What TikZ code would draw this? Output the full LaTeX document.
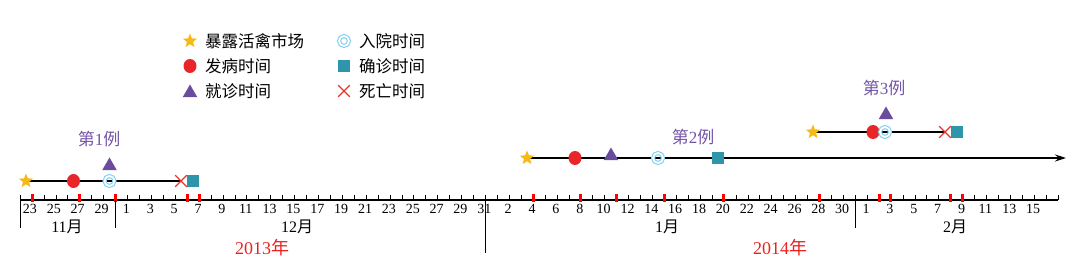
\documentclass[tikz,border=0pt]{standalone}
\usepackage{fontspec}
\setmainfont{Liberation Serif}
\newfontfamily\cjk{Noto Sans CJK SC}
\usetikzlibrary{shapes.geometric,shapes.misc,arrows.meta}
\definecolor{starc}{HTML}{F7B916}
\definecolor{onsetc}{HTML}{E8262A}
\definecolor{visitc}{HTML}{6A4C9C}
\definecolor{ringc}{HTML}{7FD0F0}
\definecolor{sqc}{HTML}{2E95AB}
\definecolor{deathc}{HTML}{E8352A}
\definecolor{casec}{HTML}{7455A6}
\definecolor{yearc}{HTML}{E8231F}
\tikzset{
  mstar/.style={star,star points=5,star point ratio=2.3,fill=starc,draw=none,minimum size=15pt,inner sep=0pt},
  monset/.style={ellipse,fill=onsetc,draw=none,minimum width=13pt,minimum height=14pt,inner sep=0pt},
  mvisit/.style={regular polygon,regular polygon sides=3,fill=visitc,draw=none,minimum size=17pt,inner sep=0pt},
  mring/.style={circle,draw=ringc,line width=1.1pt,double=white,double distance=1.8pt,minimum size=10pt,inner sep=0pt},
  msq/.style={rectangle,fill=sqc,draw=none,minimum size=12.5pt,inner sep=0pt},
  mdeath/.style={cross out,draw=deathc,line width=1.1pt,minimum size=10.5pt,inner sep=0pt},
  legtext/.style={anchor=west,font=\fontsize{16.5}{16.5}\cjk,inner sep=0pt},
  caselab/.style={font=\fontsize{17}{17}\selectfont,text=casec,inner sep=0pt},
  ticklab/.style={font=\fontsize{14}{14}\selectfont,inner sep=0pt},
  monthlab/.style={font=\fontsize{16}{16}\selectfont,inner sep=0pt},
  yearlab/.style={font=\fontsize{18}{18}\selectfont,text=yearc,inner sep=0pt},
  caseline/.style={line width=1.2pt,black},
}
\begin{document}
\begin{tikzpicture}[x=1pt,y=1pt]
\useasboundingbox (0,0) rectangle (1077,270);
% legend
\node[mstar] (l1) at (190,229) {};
\node[legtext] (lt1) at (205,229) {暴露活禽市场};
\node[monset] (l2) at (190,204) {};
\node[legtext] (lt2) at (205,204) {发病时间};
\node[mvisit] (l3) at (190,177) {};
\node[legtext] (lt3) at (205,179) {就诊时间};
\node[mring] (l4) at (344,229) {};
\node[legtext] (lt4) at (359,229) {入院时间};
\node[msq] (l5) at (344,204) {};
\node[legtext] (lt5) at (359,204) {确诊时间};
\node[mdeath] (l6) at (344,179) {};
\node[legtext] (lt6) at (359,179) {死亡时间};
% axis
\coordinate (axL) at (20,70);
\coordinate (axR) at (1058,70);
\draw[line width=1.2pt] (axL) -- (axR);
\foreach \d in {-1,...,86} \draw[line width=0.6pt] ({32+11.93*\d},70) -- ++(0,5);
\foreach \d in {0,4,7,13,14,42,46,49,53,58,66,71,72,77,78}
  \fill[red] ({32+11.93*\d-1.5},68) rectangle ++(3,8);
% month separators
\draw[line width=0.8pt] (20,70) -- (20,42);
\draw[line width=0.8pt] ({32+11.93*7},70) -- ++(0,-28);
\draw[line width=0.8pt] ({32+11.93*38},70) -- ++(0,-53);
\draw[line width=0.8pt] ({32+11.93*69},70) -- ++(0,-28);
% tick labels
\foreach \d in {0,2,4,6} {\pgfmathtruncatemacro\t{\d+23}\node[ticklab] at ({32+11.93*\d-2},61) {\t};}
\foreach \d in {8,10,...,38} {\pgfmathtruncatemacro\t{\d-7}\node[ticklab] at ({32+11.93*\d-1},61) {\t};}
\foreach \d in {40,42,...,68} {\pgfmathtruncatemacro\t{\d-38}\node[ticklab] at ({32+11.93*\d-1},61) {\t};}
\foreach \d in {70,72,...,84} {\pgfmathtruncatemacro\t{\d-69}\node[ticklab] at ({32+11.93*\d-1},61) {\t};}
% month labels
\node[monthlab] (m11) at (67,43.5) {11{\cjk 月}};
\node[monthlab] (m12) at (297,43.5) {12{\cjk 月}};
\node[monthlab] (m1) at (667,43.5) {1{\cjk 月}};
\node[monthlab] (m2) at (955,43.5) {2{\cjk 月}};
\node[yearlab] (y13) at (262,22) {2013{\cjk 年}};
\node[yearlab] (y14) at (780,22) {2014{\cjk 年}};
% case 1
\coordinate (c1a) at (26,89);
\coordinate (c1b) at (181,89);
\draw[caseline] (c1a) -- (c1b);
\node[mstar] (c1s) at (c1a) {};
\node[monset] (c1o) at (73.5,89) {};
\node[mring] (c1r) at (109.5,89) {};
\node[mvisit] (c1v) at (109.5,104) {};
\node[mdeath] (c1x) at (c1b) {};
\node[msq] (c1q) at (193,89) {};
\node[caselab] (c1l) at (99,131) {{\cjk 第}1{\cjk 例}};
% case 2
\coordinate (c2a) at (527,112);
\coordinate (c2b) at (1066,112);
\draw[caseline,-{Stealth[length=11pt,width=7pt]}] (c2a) -- (c2b);
\node[mstar] (c2s) at (c2a) {};
\node[monset] (c2o) at (575,112) {};
\node[mvisit] (c2v) at (611,114) {};
\node[mring] (c2r) at (658,112) {};
\node[msq] (c2q) at (718,112) {};
\node[caselab] (c2l) at (693,133) {{\cjk 第}2{\cjk 例}};
% case 3
\coordinate (c3a) at (813,138);
\coordinate (c3b) at (945,138);
\draw[caseline] (c3a) -- (c3b);
\node[mstar] (c3s) at (c3a) {};
\node[monset] (c3o) at (873,138) {};
\node[mring] (c3r) at (885,138) {};
\node[mvisit] (c3v) at (886,155) {};
\node[mdeath] (c3x) at (c3b) {};
\node[msq] (c3q) at (957,138) {};
\node[caselab] (c3l) at (884,182) {{\cjk 第}3{\cjk 例}};
\end{tikzpicture}
\end{document}
